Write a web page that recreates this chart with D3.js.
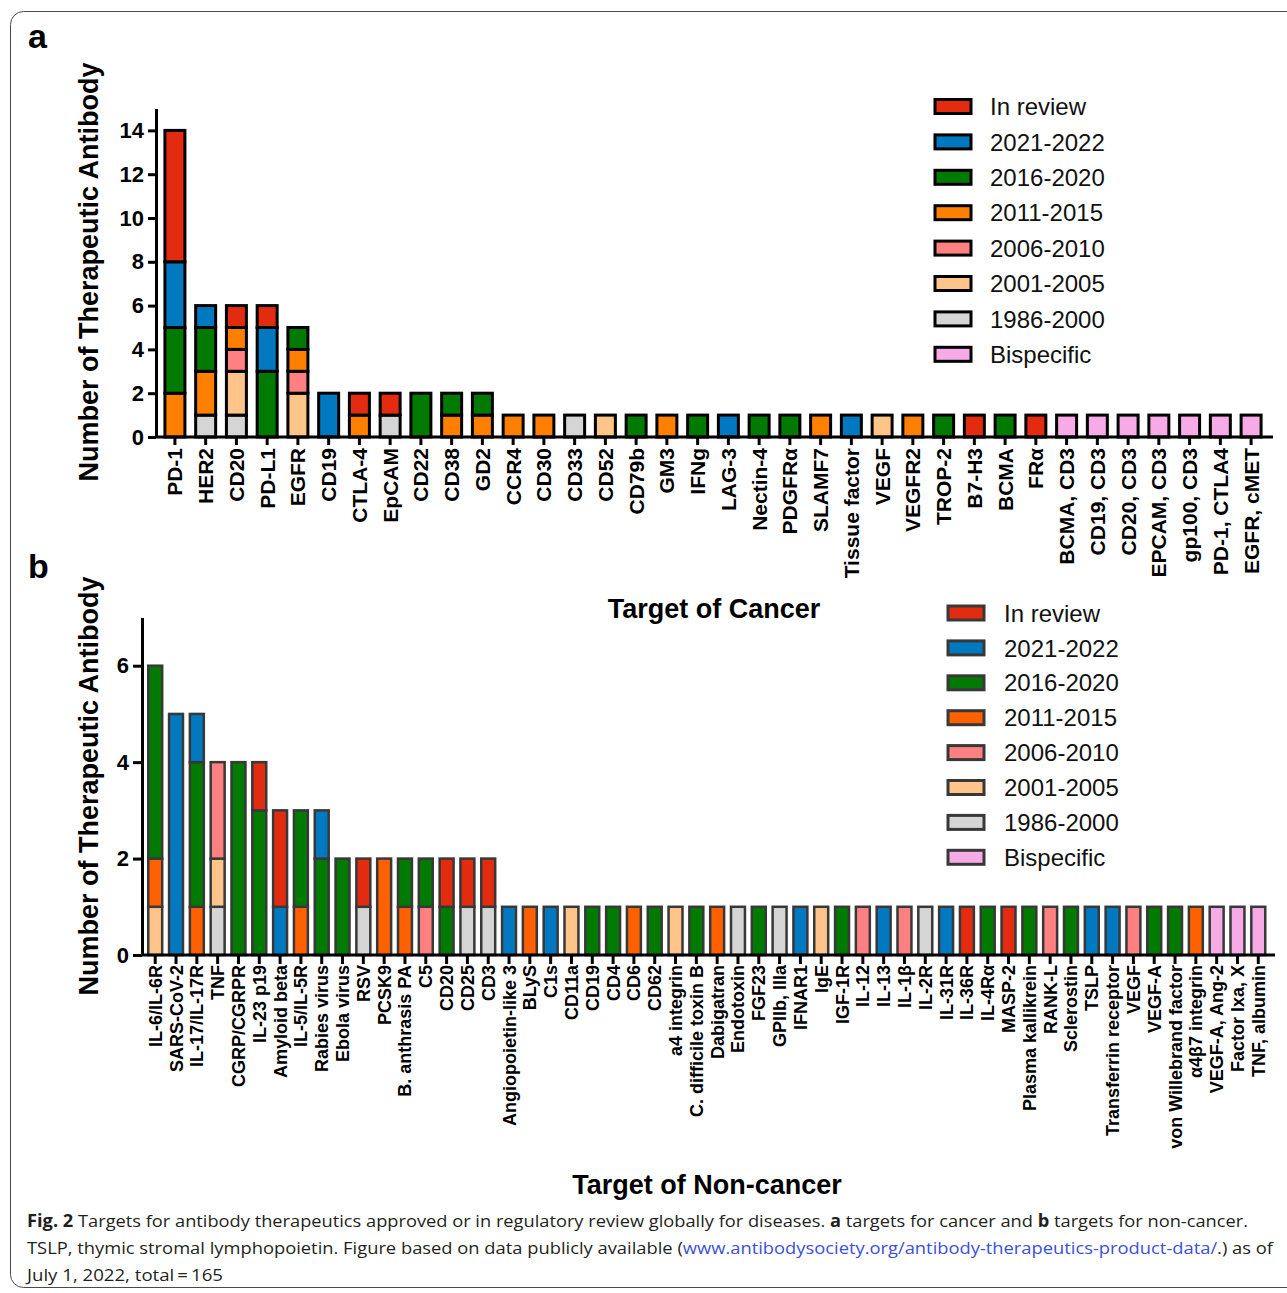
<!DOCTYPE html>
<html>
<head>
<meta charset="utf-8">
<script src="https://cdn.jsdelivr.net/npm/d3@7"></script>
<style>
  html, body { margin: 0; padding: 0; background: #fff; }
  svg { display: block; }
</style>
</head>
<body>
<svg id="chart" width="1287" height="1293"></svg>
<script>
// ---------------- DATA ----------------
const seriesKeys = ["1986-2000", "2001-2005", "2006-2010", "2011-2015", "2016-2020", "2021-2022", "In review", "Bispecific"];
const legendOrder = ["In review", "2021-2022", "2016-2020", "2011-2015", "2006-2010", "2001-2005", "1986-2000", "Bispecific"];

// Panel a: cancer targets
const cancerTargets = ["PD-1", "HER2", "CD20", "PD-L1", "EGFR", "CD19", "CTLA-4", "EpCAM", "CD22", "CD38", "GD2",
  "CCR4", "CD30", "CD33", "CD52", "CD79b", "GM3", "IFNg", "LAG-3", "Nectin-4", "PDGFRα", "SLAMF7", "Tissue factor",
  "VEGF", "VEGFR2", "TROP-2", "B7-H3", "BCMA", "FRα",
  "BCMA, CD3", "CD19, CD3", "CD20, CD3", "EPCAM, CD3", "gp100, CD3", "PD-1, CTLA4", "EGFR, cMET"];
const cancer1986 = [0,1,1,0,0, 0,0,1,0,0,0, 0,0,1,0,0,0,0,0,0,0,0,0,0,0,0,0,0,0, 0,0,0,0,0,0,0];
const cancer2001 = [0,0,2,0,2, 0,0,0,0,0,0, 0,0,0,1,0,0,0,0,0,0,0,0,1,0,0,0,0,0, 0,0,0,0,0,0,0];
const cancer2006 = [0,0,1,0,1, 0,0,0,0,0,0, 0,0,0,0,0,0,0,0,0,0,0,0,0,0,0,0,0,0, 0,0,0,0,0,0,0];
const cancer2011 = [2,2,1,0,1, 0,1,0,0,1,1, 1,1,0,0,0,1,0,0,0,0,1,0,0,1,0,0,0,0, 0,0,0,0,0,0,0];
const cancer2016 = [3,2,0,3,1, 0,0,0,2,1,1, 0,0,0,0,1,0,1,0,1,1,0,0,0,0,1,0,1,0, 0,0,0,0,0,0,0];
const cancer2021 = [3,1,0,2,0, 2,0,0,0,0,0, 0,0,0,0,0,0,0,1,0,0,0,1,0,0,0,0,0,0, 0,0,0,0,0,0,0];
const cancerReview = [6,0,1,1,0, 0,1,1,0,0,0, 0,0,0,0,0,0,0,0,0,0,0,0,0,0,0,1,0,1, 0,0,0,0,0,0,0];
const cancerBispecific = [0,0,0,0,0, 0,0,0,0,0,0, 0,0,0,0,0,0,0,0,0,0,0,0,0,0,0,0,0,0, 1,1,1,1,1,1,1];
const cancerTicks = [0, 2, 4, 6, 8, 10, 12, 14];

// Panel b: non-cancer targets
const nonCancerTargets = ["IL-6/IL-6R", "SARS-CoV-2", "IL-17/IL-17R", "TNF", "CGRP/CGRPR", "IL-23 p19", "Amyloid beta",
  "IL-5/IL-5R", "Rabies virus", "Ebola virus", "RSV", "PCSK9", "B. anthrasis PA", "C5", "CD20", "CD25", "CD3",
  "Angiopoietin-like 3", "BLyS", "C1s", "CD11a", "CD19", "CD4", "CD6", "CD62", "a4 integrin", "C. difficile toxin B",
  "Dabigatran", "Endotoxin", "FGF23", "GPIIb, IIIa", "IFNAR1", "IgE", "IGF-1R", "IL-12", "IL-13", "IL-1β", "IL-2R",
  "IL-31R", "IL-36R", "IL-4Rα", "MASP-2", "Plasma kallikrein", "RANK-L", "Sclerostin", "TSLP", "Transferrin receptor",
  "VEGF", "VEGF-A", "von Willebrand factor", "α4β7 integrin", "VEGF-A, Ang-2", "Factor Ixa, X", "TNF, albumin"];
const non1986 =   [0,0,0,1,0,0,0,0,0,0,1,0,0,0,0,1,1, 0,0,0,0,0,0,0,0,0,0,0,1,0,1,0,0,0,0,0,0,1,0,0,0,0,0,0,0,0,0,0,0,0,0,0,0,0];
const non2001 =   [1,0,0,1,0,0,0,0,0,0,0,0,0,0,0,0,0, 0,0,0,1,0,0,0,0,1,0,0,0,0,0,0,1,0,0,0,0,0,0,0,0,0,0,0,0,0,0,0,0,0,0,0,0,0];
const non2006 =   [0,0,0,2,0,0,0,0,0,0,0,0,0,1,0,0,0, 0,0,0,0,0,0,0,0,0,0,0,0,0,0,0,0,0,1,0,1,0,0,0,0,0,0,1,0,0,0,1,0,0,0,0,0,0];
const non2011 =   [1,0,1,0,0,0,0,1,0,0,0,2,1,0,0,0,0, 0,1,0,0,0,0,1,0,0,0,1,0,0,0,0,0,0,0,0,0,0,0,0,0,0,0,0,0,0,0,0,0,0,1,0,0,0];
const non2016 =   [4,0,3,0,4,3,0,2,2,2,0,0,1,1,1,0,0, 0,0,0,0,1,1,0,1,0,1,0,0,1,0,0,0,1,0,0,0,0,0,0,1,0,1,0,1,0,0,0,1,1,0,0,0,0];
const non2021 =   [0,5,1,0,0,0,1,0,1,0,0,0,0,0,0,0,0, 1,0,1,0,0,0,0,0,0,0,0,0,0,0,1,0,0,0,1,0,0,1,0,0,0,0,0,0,1,1,0,0,0,0,0,0,0];
const nonReview = [0,0,0,0,0,1,2,0,0,0,1,0,0,0,1,1,1, 0,0,0,0,0,0,0,0,0,0,0,0,0,0,0,0,0,0,0,0,0,0,1,0,1,0,0,0,0,0,0,0,0,0,0,0,0];
const nonBispecific = [0,0,0,0,0,0,0,0,0,0,0,0,0,0,0,0,0, 0,0,0,0,0,0,0,0,0,0,0,0,0,0,0,0,0,0,0,0,0,0,0,0,0,0,0,0,0,0,0,0,0,0,1,1,1];
const nonCancerTicks = [0, 2, 4, 6];

const colorsA = { "In review": "#E32B10", "2021-2022": "#0079C1", "2016-2020": "#007A00", "2011-2015": "#FF8000",
  "2006-2010": "#FF8080", "2001-2005": "#FFC489", "1986-2000": "#D5D5D5", "Bispecific": "#F6AAE6" };
const colorsB = Object.assign({}, colorsA, { "2011-2015": "#FF6000" });

// ---------------- HELPERS ----------------
function buildRows(cats, arrays) {
  return cats.map((c, i) => {
    const row = { target: c };
    seriesKeys.forEach((k, j) => { row[k] = arrays[j][i]; });
    return row;
  });
}

const svg = d3.select("#chart");
const FONT = "'Liberation Sans', Arial, Helvetica, sans-serif";

// outer frame
svg.append("rect").attr("x", 10.5).attr("y", 11.5).attr("width", 1300).attr("height", 1276)
  .attr("rx", 13).attr("fill", "none").attr("stroke", "#4a4a4a").attr("stroke-width", 1);

function drawPanel(cfg) {
  const rows = buildRows(cfg.cats, cfg.arrays);
  const stack = d3.stack().keys(seriesKeys)(rows);
  const x = d3.scaleBand().domain(cfg.cats).range(cfg.xRange)
    .paddingInner(cfg.pi).paddingOuter(cfg.po);
  const y = d3.scaleLinear().domain([0, cfg.yMax]).range(cfg.yRange);
  const g = svg.append("g");

  // bars
  stack.forEach(layer => {
    g.append("g").selectAll("rect")
      .data(layer.filter(d => d[1] - d[0] > 0))
      .join("rect")
      .attr("x", d => x(d.data.target))
      .attr("width", x.bandwidth())
      .attr("y", d => y(d[1]))
      .attr("height", d => y(d[0]) - y(d[1]))
      .attr("fill", cfg.colors[layer.key])
      .attr("stroke", cfg.barStroke)
      .attr("stroke-width", cfg.barStrokeW);
  });

  // y axis
  const ya = g.append("g").attr("transform", `translate(${cfg.xRange[0]},0)`)
    .call(d3.axisLeft(y).tickValues(cfg.ticks).tickFormat(d3.format("d"))
      .tickSizeInner(cfg.tickLen).tickSizeOuter(0).tickPadding(4));
  ya.select(".domain").attr("stroke", "#000").attr("stroke-width", cfg.axisW);
  ya.selectAll(".tick line").attr("stroke", "#000").attr("stroke-width", cfg.axisW);
  ya.selectAll(".tick text").attr("font-family", FONT).attr("font-weight", "bold")
    .attr("font-size", cfg.yTickFont).attr("fill", "#000");

  // x axis
  const xa = g.append("g").attr("transform", `translate(0,${cfg.yRange[0]})`)
    .call(d3.axisBottom(x).tickSizeInner(cfg.tickLen).tickSizeOuter(0));
  xa.select(".domain").attr("stroke", "#000").attr("stroke-width", cfg.axisW)
    .attr("d", `M${cfg.xRange[0]},0H${cfg.xAxisEnd}`);
  xa.selectAll(".tick line").attr("stroke", "#000").attr("stroke-width", cfg.axisW);
  xa.selectAll(".tick text")
    .attr("font-family", FONT).attr("font-weight", "bold").attr("font-size", cfg.xTickFont).attr("fill", "#000")
    .attr("transform", "rotate(-90)")
    .attr("text-anchor", "end")
    .attr("x", -cfg.xLabelGap).attr("y", 0).attr("dy", "0.36em");

  // y label
  g.append("text")
    .attr("transform", `translate(${cfg.yLabelX},${cfg.yLabelY}) rotate(-90)`)
    .attr("text-anchor", "middle")
    .attr("font-family", FONT).attr("font-weight", "bold").attr("font-size", 27).attr("fill", "#000")
    .text("Number of Therapeutic Antibody");

  // legend
  const lg = g.append("g");
  legendOrder.forEach((k, i) => {
    const cy = cfg.legY + i * cfg.legStep;
    lg.append("rect").attr("x", cfg.legX).attr("y", cy - 7).attr("width", 36).attr("height", 14)
      .attr("fill", cfg.colors[k]).attr("stroke", cfg.legStroke).attr("stroke-width", 3);
    lg.append("text").attr("x", cfg.legTextX).attr("y", cy).attr("dy", "0.36em")
      .attr("font-family", FONT).attr("font-size", 24).attr("fill", "#111").text(k);
  });

  // panel letter
  g.append("text").attr("x", 28).attr("y", cfg.letterY)
    .attr("font-family", FONT).attr("font-weight", "bold").attr("font-size", 34).attr("fill", "#000")
    .text(cfg.letter);
}

drawPanel({
  cats: cancerTargets,
  arrays: [cancer1986, cancer2001, cancer2006, cancer2011, cancer2016, cancer2021, cancerReview, cancerBispecific],
  colors: colorsA, xRange: [156, 1270], pi: 0.35, po: 0.29, xAxisEnd: 1273,
  yMax: 15, yRange: [437, 108.5], ticks: cancerTicks,
  barStroke: "#000", barStrokeW: 3, axisW: 3, tickLen: 8,
  yTickFont: 22, xTickFont: 21, xLabelGap: 11,
  yLabelX: 98, yLabelY: 272,
  legX: 935, legY: 106.5, legStep: 35.4, legTextX: 990, legStroke: "#000",
  letter: "a", letterY: 48
});

drawPanel({
  cats: nonCancerTargets,
  arrays: [non1986, non2001, non2006, non2011, non2016, non2021, nonReview, nonBispecific],
  colors: colorsB, xRange: [142, 1271.5], pi: 0.33, po: 0.30, xAxisEnd: 1275,
  yMax: 7, yRange: [955, 617.5], ticks: nonCancerTicks,
  barStroke: "#383838", barStrokeW: 2.5, axisW: 3, tickLen: 9,
  yTickFont: 22, xTickFont: 18, xLabelGap: 10,
  yLabelX: 98, yLabelY: 786,
  legX: 948, legY: 613, legStep: 34.9, legTextX: 1004, legStroke: "#383838",
  letter: "b", letterY: 578
});

// axis titles
svg.append("text").attr("x", 714).attr("y", 618).attr("text-anchor", "middle")
  .attr("font-family", FONT).attr("font-weight", "bold").attr("font-size", 27).attr("fill", "#000")
  .text("Target of Cancer");
svg.append("text").attr("x", 707).attr("y", 1194).attr("text-anchor", "middle")
  .attr("font-family", FONT).attr("font-weight", "bold").attr("font-size", 27).attr("fill", "#000")
  .text("Target of Non-cancer");

// caption
const CAP = "'Open Sans', 'Noto Sans', sans-serif";
const capColor = "#231f20";
const l1 = svg.append("text").attr("x", 27).attr("y", 1227).attr("font-family", CAP).attr("font-size", 17)
  .attr("fill", capColor).attr("textLength", 1221).attr("lengthAdjust", "spacingAndGlyphs");
l1.append("tspan").attr("font-weight", "bold").text("Fig. 2");
l1.append("tspan").text("  Targets for antibody therapeutics approved or in regulatory review globally for diseases. ");
l1.append("tspan").attr("font-weight", "bold").text("a");
l1.append("tspan").text(" targets for cancer and ");
l1.append("tspan").attr("font-weight", "bold").text("b");
l1.append("tspan").text(" targets for non-cancer.");

const l2 = svg.append("text").attr("x", 27).attr("y", 1254).attr("font-family", CAP).attr("font-size", 17)
  .attr("fill", capColor).attr("textLength", 1246).attr("lengthAdjust", "spacingAndGlyphs");
l2.append("tspan").text("TSLP, thymic stromal lymphopoietin. Figure based on data publicly available (");
l2.append("tspan").attr("fill", "#3b4fd9").text("www.antibodysociety.org/antibody-therapeutics-product-data/");
l2.append("tspan").text(".) as of");

svg.append("text").attr("x", 27).attr("y", 1281).attr("font-family", CAP).attr("font-size", 17)
  .attr("fill", capColor).attr("textLength", 196).attr("lengthAdjust", "spacingAndGlyphs")
  .text("July 1, 2022, total\u2009=\u2009165");
</script>
</body>
</html>
